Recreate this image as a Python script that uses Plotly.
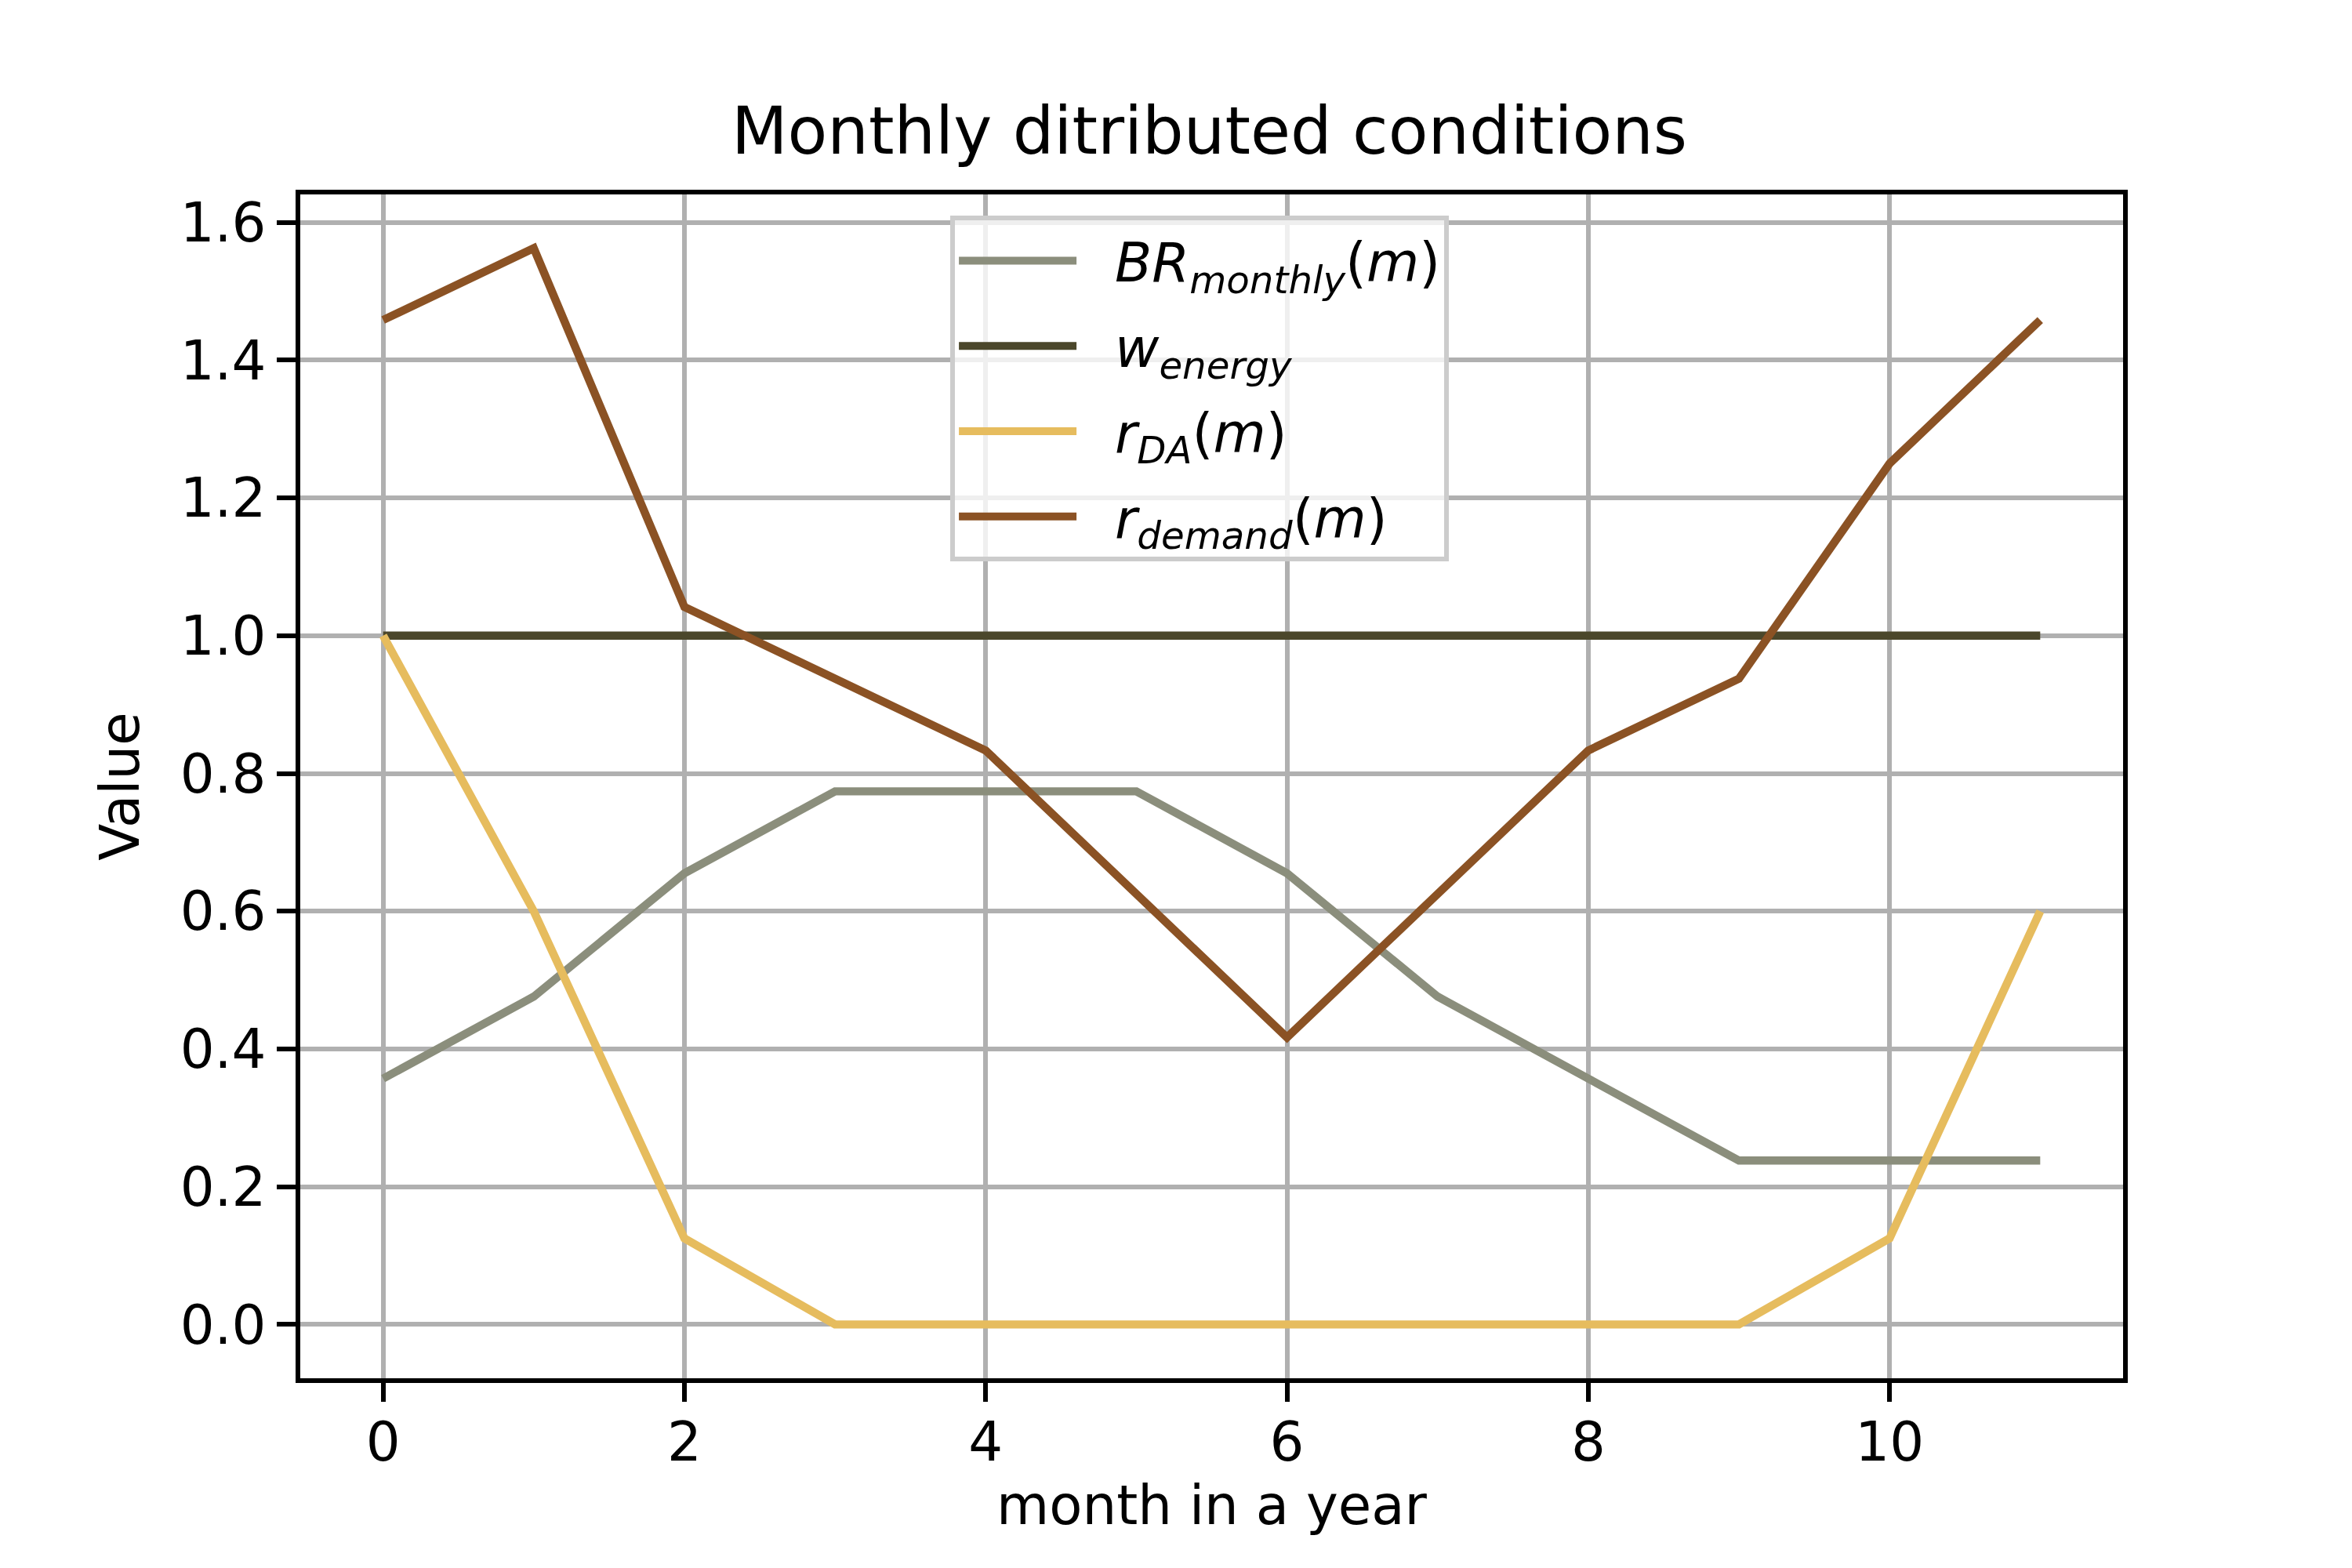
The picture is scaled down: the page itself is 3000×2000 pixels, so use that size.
import plotly.graph_objects as go

# monthly values
months = list(range(12))
br_monthly = [0.357, 0.476, 0.655, 0.774, 0.774, 0.774, 0.655, 0.476, 0.357, 0.238, 0.238, 0.238]
w_energy = [1.0] * 12
r_da = [1.0, 0.6, 0.125, 0.0, 0.0, 0.0, 0.0, 0.0, 0.0, 0.0, 0.125, 0.6]
r_demand = [1.4583, 1.5625, 1.0417, 0.9375, 0.8333, 0.625, 0.4167, 0.625, 0.8333, 0.9375, 1.25, 1.4583]

series_names = [
    "<i>BR</i><sub><i>monthly</i></sub>(<i>m</i>)",
    "<i>w</i><sub><i>energy</i></sub>",
    "<i>r</i><sub><i>DA</i></sub>(<i>m</i>)",
    "<i>r</i><sub><i>demand</i></sub>(<i>m</i>)",
]
series_colors = ["#8b8e7c", "#4b472b", "#e6bc5e", "#8b5224"]
x_ticks = [0, 2, 4, 6, 8, 10]
y_ticks = [0.0, 0.2, 0.4, 0.6, 0.8, 1.0, 1.2, 1.4, 1.6]

FONT = "DejaVu Sans"
LW = 10.4   # 1.5pt at 500 dpi
AX_LW = 5.5

fig = go.Figure()
for i, (name, vals, col) in enumerate(zip(series_names, [br_monthly, w_energy, r_da, r_demand], series_colors)):
    # two nbsp's give the gap between handle and label like matplotlib
    fig.add_trace(go.Scatter(x=months, y=vals, mode="lines", name="&nbsp;&nbsp;" + name,
                             legendgroup=f"g{i}", line=dict(color=col, width=LW)))

axis_style = dict(
    showline=True, mirror=True, linecolor="black", linewidth=AX_LW,
    ticks="outside", ticklen=24, tickwidth=AX_LW, tickcolor="black",
    showgrid=True, gridcolor="#b0b0b0", gridwidth=AX_LW,
    zeroline=False, tickfont=dict(family=FONT, size=69, color="black"),
)

fig.update_xaxes(range=[-0.55, 11.55], tickvals=x_ticks, ticklabelstandoff=-8,
                 title=dict(text="month in a year", font=dict(family=FONT, size=69, color="black"),
                            standoff=20),
                 **axis_style)
fig.update_yaxes(range=[-0.078125, 1.640625], tickvals=y_ticks, tickformat=".1f",
                 title=dict(text="Value", font=dict(family=FONT, size=69, color="black"),
                            standoff=32),
                 **axis_style)

fig.update_layout(
    width=3000, height=2000,
    margin=dict(l=375, r=300, t=240, b=250),
    paper_bgcolor="white", plot_bgcolor="white",
    font=dict(family=FONT, size=69, color="black"),
    title=dict(text="Monthly ditributed conditions", x=0.5115, xanchor="center",
               yref="container", y=0.906, yanchor="bottom",
               font=dict(family=FONT, size=83, color="black")),
    legend=dict(x=0.3566, y=0.982, xanchor="left", yanchor="top",
                bgcolor="rgba(255,255,255,0.8)", bordercolor="#cccccc", borderwidth=6,
                font=dict(family=FONT, size=69, color="black"), itemwidth=150,
                tracegroupgap=16),
    showlegend=True,
)

fig.write_html("out.html")
